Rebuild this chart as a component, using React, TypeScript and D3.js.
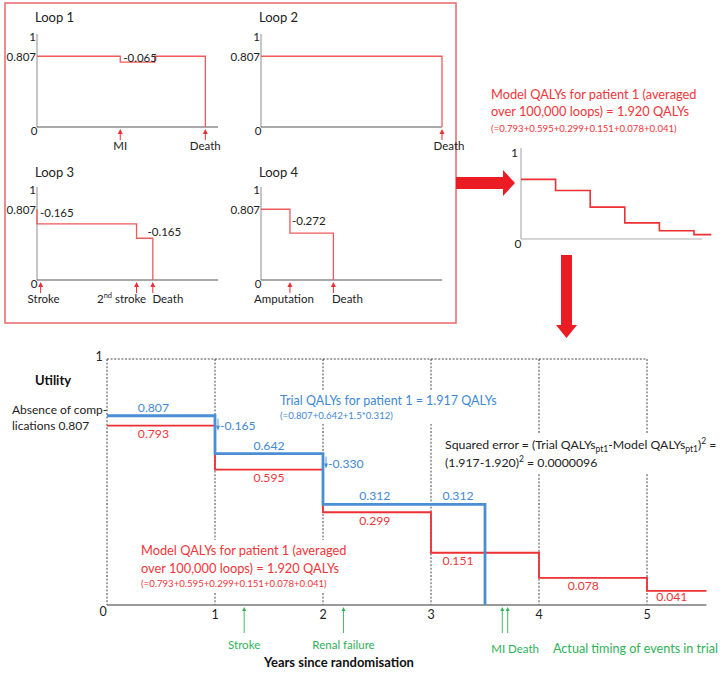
import React from "react";
import * as d3 from "d3";

const FONT = "Lato, 'Open Sans', sans-serif";
const RED = "#ee2f33";
const RED_TXT = "#f0353a";
const LOOP_RED = "#f2595b";
const BLUE = "#4a8fd3";
const BLUE_TXT = "#3f89d2";
const GREEN = "#2fb15a";

// ---------- main chart data ----------
const yearTicks = [0, 1, 2, 3, 4, 5];
const modelYearStarts = [0, 1, 2, 3, 4, 5];
const modelUtilities = [0.793, 0.595, 0.299, 0.151, 0.078, 0.041];
const modelEndYear = 5.55;
const trialYearStarts = [0, 1, 2];
const trialUtilities = [0.807, 0.642, 0.312];
const trialDeathYear = 3.5;
const trialDecrements = ["-0.165", "-0.330"];
const trialEventNames = ["Stroke", "Renal failure", "MI", "Death"];
const trialEventYears = [1.27, 2.19, 3.66, 3.71];

// ---------- simulation loops ----------
const loopNames = ["Loop 1", "Loop 2", "Loop 3", "Loop 4"];
const loopTimes = [
  [0, 0.46, 0.65, 0.93],
  [0, 1.0],
  [0, 0, 0.55, 0.64],
  [0, 0.16, 0.4],
];
const loopUtilities = [
  [0.807, 0.742, 0.807, 0],
  [0.807, 0],
  [0.807, 0.642, 0.477, 0],
  [0.807, 0.535, 0],
];
const loopEventNames = [
  ["MI", "Death"],
  ["Death"],
  ["Stroke", "2nd stroke", "Death"],
  ["Amputation", "Death"],
];
const loopEventTimes = [
  [0.46, 0.93],
  [1.0],
  [0.02, 0.55, 0.64],
  [0.16, 0.4],
];
const loopDecrements = [["-0.065"], [], ["-0.165", "-0.165"], ["-0.272"]];
const loopDecrementTimes = [[0.46], [], [0.0, 0.55], [0.16]];
const loopDecrementFrom = [[0.807], [], [0.807, 0.642], [0.807]];
const startUtility = 0.807;

// ---------- averaged model (small panel) ----------
const avgYearStarts = [0, 1, 2, 3, 4, 5];
const avgUtilities = [0.793, 0.595, 0.299, 0.151, 0.078, 0.041];
const avgEndYear = 5.5;

// ---------- layout (styles, not data) ----------
const loopOrigins = [
  { x: 37, y: 127, tx: 35, ty: 22 },
  { x: 261, y: 127, tx: 259, ty: 22 },
  { x: 37, y: 280, tx: 35, ty: 177 },
  { x: 261, y: 280, tx: 259, ty: 177 },
];
const loopEventDx = [[0, 0], [7], [3, -15, 15], [-6, 14]];
const loopDecrementDx = [[3], [], [3, 11], [2]];
const loopDecrementDy = [[6], [], [8, 12], [16]];
const redLabelYear = [0.43, 1.5, 2.48, 3.25, 4.41, 5.23];
const blueLabelYear = [0.43, 1.5, 2.48, 3.25];
const BLUE_OFFSET = 6;

function stepPath(xs: number[], ys: number[], xScale: any, yScale: any, yAcc?: (v: number) => number) {
  const pts = xs.map((x, i) => [x, ys[i]] as [number, number]);
  return d3
    .line<[number, number]>()
    .x((d) => xScale(d[0]))
    .y((d) => (yAcc ? yAcc(d[1]) : yScale(d[1])))
    .curve(d3.curveStepAfter)(pts) as string;
}

function UpArrow({ x, y0, y1, color, head = 3.5, width = 1 }: any) {
  return (
    <g>
      <line x1={x} x2={x} y1={y0 + head * 1.5} y2={y1} stroke={color} strokeWidth={width} />
      <path d={`M${x},${y0} L${x - head},${y0 + head * 2} L${x + head},${y0 + head * 2} Z`} fill={color} />
    </g>
  );
}

function Loop({ i }: { i: number }) {
  const o = loopOrigins[i];
  const x = d3.scaleLinear().domain([0, 1]).range([o.x, o.x + 181]);
  const y = d3.scaleLinear().domain([0, 0.8, 1]).range([o.y, o.y - 70, o.y - 91]);
  const fs = 11.5;
  return (
    <g fontFamily={FONT}>
      <text x={o.tx} y={o.ty} fontSize={13} fill="#222">{loopNames[i]}</text>
      <line x1={o.x} x2={o.x} y1={y(1) - 2} y2={o.y} stroke="#a0a0a0" strokeWidth={1.2} />
      <line x1={o.x} x2={x(1)} y1={o.y} y2={o.y} stroke="#555" strokeWidth={1.2} />
      <text x={o.x - 1} y={y(1) + 5} fontSize={fs} textAnchor="end" fill="#222">1</text>
      <text x={o.x - 1} y={y(startUtility) + 4.5} fontSize={fs} textAnchor="end" fill="#222">
        {d3.format(".3f")(startUtility)}
      </text>
      <text x={o.x - 3} y={o.y + 8} fontSize={fs} textAnchor="middle" fill="#222">0</text>
      <path d={stepPath(loopTimes[i], loopUtilities[i], x, y)} fill="none" stroke={LOOP_RED} strokeWidth={1.3} />
      {loopDecrements[i].map((t, k) => (
        <text key={k} x={x(loopDecrementTimes[i][k]) + loopDecrementDx[i][k]}
          y={y(loopDecrementFrom[i][k]) + loopDecrementDy[i][k]} fontSize={fs} fill="#222">{t}</text>
      ))}
      {loopEventNames[i].map((n, k) => {
        const ex = x(loopEventTimes[i][k]);
        const m = n.match(/^(\d)(nd)(.*)$/);
        return (
          <g key={k}>
            <UpArrow x={ex} y0={o.y + 2} y1={o.y + 13} color={RED} head={2.5} width={1} />
            <text x={ex + loopEventDx[i][k]} y={o.y + 23} fontSize={fs} textAnchor="middle" fill="#222">
              {m ? (<>{m[1]}<tspan fontSize={7.5} dy={-5}>{m[2]}</tspan><tspan dy={5}>{m[3]}</tspan></>) : n}
            </text>
          </g>
        );
      })}
    </g>
  );
}

function AveragedPanel() {
  const x = d3.scaleLinear().domain([0, 5]).range([521, 694]);
  const y = d3.scaleLinear().domain([0, 0.3, 0.8, 1]).range([239, 207, 179, 148]);
  const xs = [...avgYearStarts, avgEndYear];
  const ys = [...avgUtilities, avgUtilities[avgUtilities.length - 1]];
  return (
    <g fontFamily={FONT}>
      <text x={491} y={99} fontSize={12.8} fill={RED_TXT}>Model QALYs for patient 1 (averaged</text>
      <text x={491} y={116} fontSize={12.8} fill={RED_TXT}>over 100,000 loops) = 1.920 QALYs</text>
      <text x={491} y={132} fontSize={9.6} fill={RED_TXT}>
        {"(=" + avgUtilities.map((v) => d3.format(".3f")(v)).join("+") + ")"}
      </text>
      <line x1={x(0)} x2={x(0)} y1={y(1)} y2={y(0)} stroke="#b0b0b0" strokeWidth={1.2} />
      <line x1={x(0)} x2={702} y1={y(0)} y2={y(0)} stroke="#b0b0b0" strokeWidth={1.2} />
      <text x={518} y={157} fontSize={12} textAnchor="end" fill="#222">1</text>
      <text x={518} y={248} fontSize={12} textAnchor="middle" fill="#222">0</text>
      <path d={stepPath(xs, ys, x, y)} fill="none" stroke={RED} strokeWidth={1.6} />
    </g>
  );
}

function MainChart() {
  const x = d3.scaleLinear().domain([0, 5]).range([107, 647]);
  const y = d3.scaleLinear().domain([0, 0.15, 0.3, 0.6, 0.8, 1]).range([605, 553, 512, 469, 424, 359]);
  const yBlue = (v: number) => (v > 0 ? y(v) - BLUE_OFFSET : y(v));
  const fmt = d3.format(".3f");
  const redXs = [...modelYearStarts, modelEndYear];
  const redYs = [...modelUtilities, modelUtilities[modelUtilities.length - 1]];
  const blueXs = [...trialYearStarts, trialDeathYear];
  const blueYs = [...trialUtilities, 0];
  const dotted = { stroke: "#333", strokeWidth: 0.9, strokeDasharray: "2,1.6" };
  const blueLabelVals = [...trialUtilities, trialUtilities[trialUtilities.length - 1]];
  const vfs = 12.2;
  return (
    <g fontFamily={FONT}>
      {/* grid */}
      <line x1={x(0)} x2={x(5)} y1={y(1)} y2={y(1)} {...dotted} />
      {yearTicks.map((t) => (
        <line key={t} x1={x(t)} x2={x(t)} y1={y(1)} y2={y(0)} {...dotted} />
      ))}
      <line x1={x(0)} x2={x(modelEndYear)} y1={y(0)} y2={y(0)} stroke="#777" strokeWidth={1.3} />
      {/* text boxes that interrupt grid */}
      <rect x={277} y={391} width={220} height={33} fill="#fff" />
      <rect x={442} y={433} width={282} height={40} fill="#fff" />
      <rect x={138} y={540} width={210} height={53} fill="#fff" />

      {/* tick labels */}
      <text x={99} y={361} fontSize={12.5} textAnchor="middle" fill="#222">1</text>
      {yearTicks.map((t) => (
        <text key={t} x={t === 0 ? x(t) - 4 : x(t)} y={t === 0 ? 616 : 619} fontSize={12.5} textAnchor="middle" fill="#222">{t}</text>
      ))}

      {/* lines */}
      <path d={stepPath(redXs, redYs, x, y)} fill="none" stroke={RED} strokeWidth={1.8} />
      <path d={stepPath(blueXs, blueYs, x, y, yBlue)} fill="none" stroke={BLUE} strokeWidth={2.8} />

      {/* value labels */}
      {modelUtilities.map((v, i) => (
        <text key={i} x={x(redLabelYear[i])} y={y(v) + (i === 5 ? 10 : 12.5)} fontSize={vfs} textAnchor="middle" fill={RED_TXT}>{fmt(v)}</text>
      ))}
      {blueLabelVals.map((v, i) => (
        <text key={i} x={x(blueLabelYear[i])} y={yBlue(v) - 4} fontSize={vfs} textAnchor="middle" fill={BLUE_TXT}>{fmt(v)}</text>
      ))}
      {trialDecrements.map((d, i) => {
        const ex = x(trialYearStarts[i + 1]) + 3;
        const by = yBlue(trialUtilities[i]);
        return (
          <g key={i}>
            <line x1={ex} x2={ex} y1={by + 3} y2={by + 11} stroke={BLUE} strokeWidth={0.9} />
            <path d={`M${ex},${by + 15} L${ex - 2},${by + 10} L${ex + 2},${by + 10} Z`} fill={BLUE} />
            <text x={ex + 2} y={by + 14} fontSize={vfs} fill={BLUE_TXT}>{d}</text>
          </g>
        );
      })}

      {/* annotations */}
      <text x={12} y={414} fontSize={12} fill="#222">Absence of comp-</text>
      <text x={12} y={430} fontSize={12} fill="#222">lications {fmt(trialUtilities[0])}</text>
      <text x={35} y={385} fontSize={13} fontWeight="bold" fill="#111">Utility</text>

      <text x={280} y={405} fontSize={12.5} fill={BLUE_TXT}>Trial QALYs for patient 1 = 1.917 QALYs</text>
      <text x={280} y={419} fontSize={9.6} fill={BLUE_TXT}>(=0.807+0.642+1.5*0.312)</text>

      <text x={445} y={449} fontSize={12.3} fill="#222">
        Squared error = (Trial QALYs<tspan fontSize={8.5} dy={3}>pt1</tspan>
        <tspan dy={-3}>-Model QALYs</tspan><tspan fontSize={8.5} dy={3}>pt1</tspan>
        <tspan dy={-3}>)</tspan><tspan fontSize={8.5} dy={-5}>2</tspan><tspan dy={5}> =</tspan>
      </text>
      <text x={445} y={467} fontSize={12.3} fill="#222">
        (1.917-1.920)<tspan fontSize={8.5} dy={-5}>2</tspan><tspan dy={5}> = 0.0000096</tspan>
      </text>

      <text x={141} y={555} fontSize={12.8} fill={RED_TXT}>Model QALYs for patient 1 (averaged</text>
      <text x={141} y={573} fontSize={12.8} fill={RED_TXT}>over 100,000 loops) = 1.920 QALYs</text>
      <text x={141} y={587} fontSize={9.6} fill={RED_TXT}>
        {"(=" + modelUtilities.map((v) => fmt(v)).join("+") + ")"}
      </text>

      {/* trial events */}
      {trialEventYears.map((t, i) => (
        <UpArrow key={i} x={x(t)} y0={607} y1={633} color={GREEN} head={2} width={0.9} />
      ))}
      <text x={x(trialEventYears[0])} y={649} fontSize={11.5} textAnchor="middle" fill={GREEN}>{trialEventNames[0]}</text>
      <text x={x(trialEventYears[1])} y={649} fontSize={11.5} textAnchor="middle" fill={GREEN}>{trialEventNames[1]}</text>
      <text x={x(trialEventYears[2]) - 11} y={653} fontSize={11.5} fill={GREEN}>{trialEventNames[2] + " " + trialEventNames[3]}</text>
      <text x={553} y={653} fontSize={12.6} fill={GREEN}>Actual timing of events in trial</text>
      <text x={339} y={667} fontSize={13} fontWeight="bold" textAnchor="middle" fill="#111">Years since randomisation</text>
    </g>
  );
}

export default function App() {
  return (
    <svg width={725} height={673} style={{ position: "absolute", left: 0, top: 0, background: "#fff" }}>
      <rect x={0} y={0} width={725} height={673} fill="#fff" />
      <rect x={5} y={3} width={451} height={320} fill="none" stroke="#e8676a" strokeWidth={1.5} />
      {[0, 1, 2, 3].map((i) => (
        <Loop key={i} i={i} />
      ))}
      {/* big arrows */}
      <path d="M456,177 L503,177 L503,170 L515,183 L503,196 L503,189 L456,189 Z" fill="#ec1c24" />
      <path d="M561,255 L572,255 L572,325 L577,325 L566.5,338 L556,325 L561,325 Z" fill="#ec1c24" />
      <AveragedPanel />
      <MainChart />
    </svg>
  );
}
